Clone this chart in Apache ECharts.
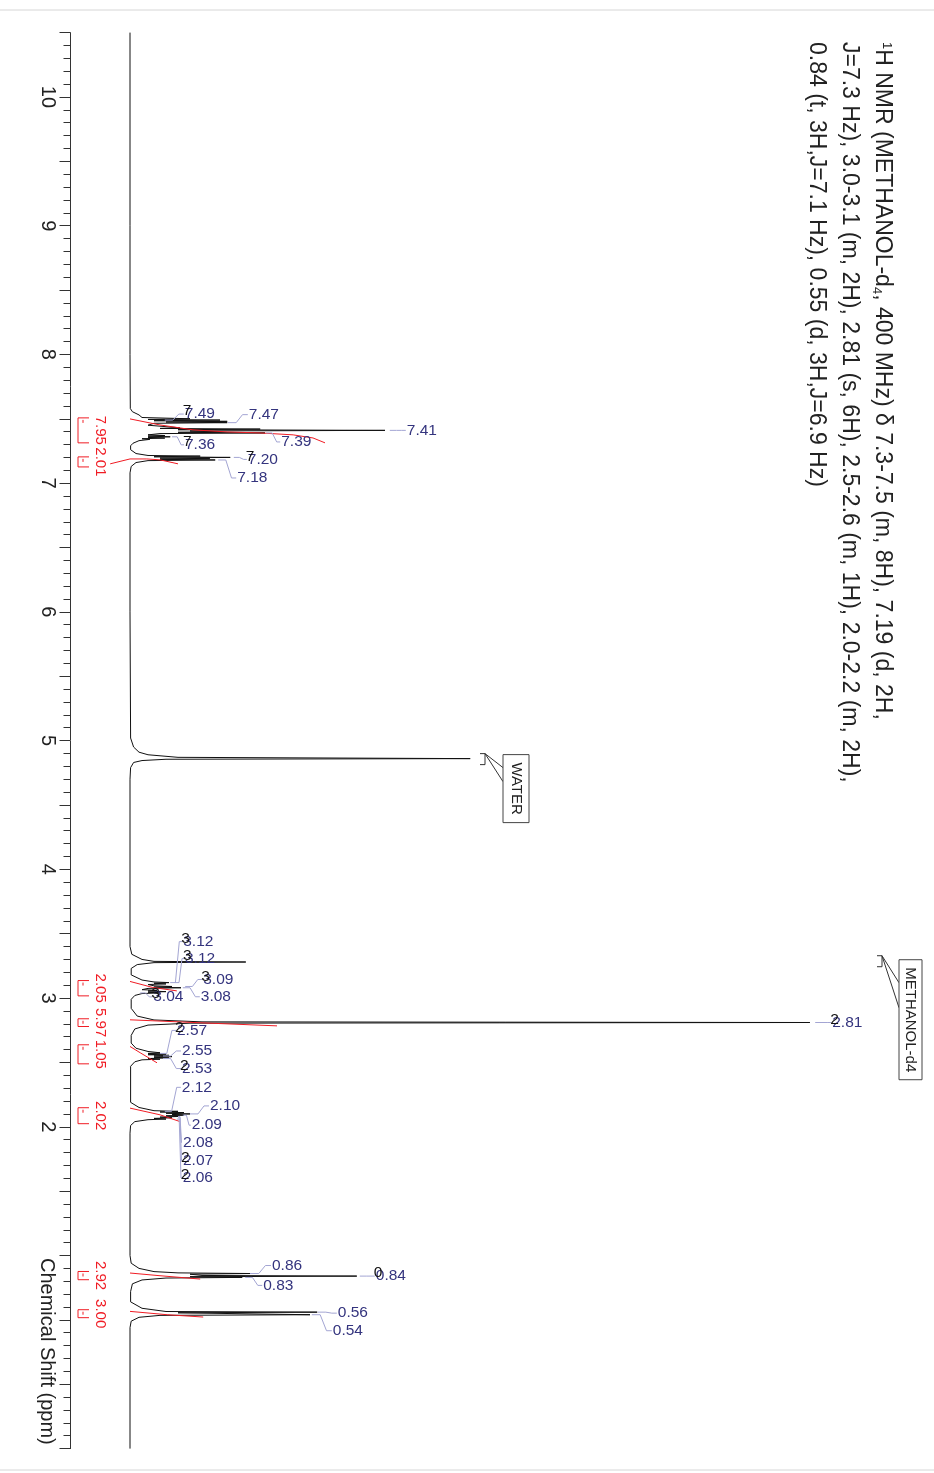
<!DOCTYPE html>
<html><head><meta charset="utf-8">
<script src="https://cdn.jsdelivr.net/npm/echarts@6/dist/echarts.min.js"></script>
<style>html,body{margin:0;padding:0;background:#fff}#c{width:934px;height:1473px}</style>
</head><body><div id="c"></div>
<script>
// ================= DATA =================
// Axis (chemical shift, ppm) range and ticks
const ppmMin = -0.5, ppmMax = 10.5, ppmInterval = 0.5;
const ppmLabelMin = 2; // tick labels shown from 2 to 10 (0 and 1 hidden under axis name)

// Spectrum trace: [ppm, intensity] (intensity in arbitrary units, baseline = 0)
const spectrumBase = [[10.5,0],[9.0,0],[8.0,0],[7.58,0.05]];
const spectrumAromatic = [
  [7.555,0.4],[7.53,1.5],[7.51,2],[7.50,10],[7.495,3],[7.49,15],[7.485,4],[7.48,16.2],[7.475,6],[7.47,16.2],[7.465,4],
  [7.45,3],[7.43,8.3],[7.425,5],[7.42,21.7],[7.415,8],[7.41,42.5],[7.405,10],[7.40,15],[7.395,8],[7.39,22.5],[7.385,5],
  [7.375,3],[7.37,5.8],[7.365,3],[7.36,6.7],[7.355,3],[7.35,5.8],[7.345,2],[7.34,3.3],[7.33,1.5],[7.31,0.5],[7.29,0.1],[7.26,0.1],
  [7.23,1],[7.215,3],[7.21,11.7],[7.205,4],[7.20,16.7],[7.195,5],[7.19,13.3],[7.185,5],[7.18,14.2],[7.175,3],[7.16,1],[7.13,0.2],[7.08,0]
];
const spectrumWater = [[6.0,0],[5.02,0.1],[4.95,0.6],[4.91,1.5],[4.89,3],[4.87,8],[4.86,56.7],[4.855,6],[4.845,2],[4.83,0.6],[4.79,0.1],[4.70,0]];
const spectrumMethylene = [
  [3.40,0],[3.34,0.3],[3.30,2],[3.285,4],[3.28,19.3],[3.275,4],[3.26,1.2],[3.23,0.2],
  [3.18,0.2],[3.14,2],[3.125,4],[3.12,6.5],[3.115,4],[3.11,6],[3.105,3],[3.095,4],[3.09,7],[3.085,4],[3.08,8.5],[3.075,3],
  [3.065,2],[3.06,4.5],[3.055,3],[3.05,6],[3.045,3],[3.04,5],[3.035,2],[3.02,0.8],[2.99,0.2],
  [2.92,0.2],[2.86,1.2],[2.83,4],[2.815,12],[2.81,113.3],[2.805,10],[2.79,3],[2.76,0.8],[2.71,0.2],
  [2.65,0.2],[2.61,1],[2.585,3],[2.575,5],[2.57,3],[2.565,6],[2.56,3],[2.555,6.5],[2.55,4],[2.545,7],[2.54,4],[2.535,6.5],
  [2.53,3],[2.525,5],[2.52,2],[2.505,0.8],[2.47,0.1],
  [2.19,0.1],[2.15,1.5],[2.125,4],[2.12,8],[2.115,5],[2.11,9],[2.105,6],[2.10,10],[2.095,7],[2.09,9],[2.085,6],[2.08,8],
  [2.075,5],[2.07,7],[2.065,4],[2.06,6],[2.055,3],[2.04,0.8],[2.01,0.1],[1.95,0]
];
const spectrumAliphatic = [
  [1.0,0],[0.94,0.2],[0.90,1.5],[0.875,4],[0.865,8],[0.86,20],[0.855,10],[0.845,12],[0.84,37.8],[0.835,10],[0.83,18.7],
  [0.825,6],[0.81,2],[0.78,0.4],[0.72,0.1],
  [0.64,0.1],[0.59,2],[0.565,6],[0.56,31.2],[0.555,8],[0.545,8],[0.54,30],[0.535,5],[0.52,1.5],[0.49,0.2],[0.44,0],[-0.5,0]
];

// Integrals: ranges [from ppm, to ppm] and values
const integralRanges = [[7.507,7.313],[7.204,7.126],[3.136,3.017],[2.839,2.779],[2.637,2.489],[2.148,2.024],[0.876,0.812],[0.579,0.517]];
const integralValues = ['7.95','2.01','2.05','5.97','1.05','2.02','2.92','3.00'];
// Integral curves: [ppm, intensity]
const integralCurves = [
  [[7.499,0],[7.452,5],[7.414,10.5],[7.398,16.2],[7.390,21.7],[7.375,27.2],[7.351,30.5],[7.313,32.5]],
  [[7.150,-3.3],[7.188,0],[7.188,2.8],[7.181,5],[7.150,8]],
  [[3.129,0],[3.082,3.8],[3.056,7.8]],
  [[2.831,0],[2.808,11.7],[2.784,24.5]],
  [[2.624,0],[2.575,1.7],[2.497,4.5]],
  [[2.145,0],[2.093,5],[2.041,8.3]],
  [[0.864,0],[0.843,5],[0.817,11.7]],
  [[0.566,0],[0.540,6.2],[0.522,12.2]]
];

// Peak picking labels and where their leaders attach (intensity)
const peakLabels = ['7.49','7.47','7.41','7.39','7.36','7.20','7.18','3.12','3.12','3.09','3.08','3.04','2.81','2.57','2.55','2.53','2.12','2.10','2.09','2.08','2.07','2.06','0.86','0.84','0.83','0.56','0.54'];
const peakAttach = [5.8,16.3,43.3,22.7,7,17.3,14.7,6.7,7.5,9.2,8.8,1.7,114.2,5,5.5,5.5,5.8,10,8.8,8,8,7.8,20,38.3,19.2,31.3,30.3];
const peakGhost = ['7','','','','7','7','','3','3','3','','3','2','2','','2','','','','','2','2','','0','','',''];

// Solvent annotations
const solventLabels = ['WATER','METHANOL-d4'];
const solventPpm = [4.86, 3.29];

// Texts
const titleLines = [
  '{sup|1}H NMR (METHANOL-d{sub|4}, 400 MHz) δ 7.3-7.5 (m, 8H), 7.19 (d, 2H,',
  'J=7.3 Hz), 3.0-3.1 (m, 2H), 2.81 (s, 6H), 2.5-2.6 (m, 1H), 2.0-2.2 (m, 2H),',
  '0.84 (t, 3H,J=7.1 Hz), 0.55 (d, 3H,J=6.9 Hz)'
];
const axisTitle = 'Chemical Shift (ppm)';

// ================= LAYOUT / STYLE =================
const FONT = "'Liberation Sans', Arial, Helvetica, sans-serif";
const RED = '#f01c24', NAVY = '#34347e', LEADER = '#a3a5d3';
const peakLabelOffsets = [[20,-6],[21,-8],[17,0],[15,9],[13,8],[14,2],[19,18],[13,-41],[10,-24],[18,-7],[18,9],[13,4],[17,0],[17,-23],[19,-5],[19,10],[17,-24],[20,-8],[9,10],[5,26],[5,43],[6,59],[22,-8],[16,0],[18,8],[20,1],[21,16]];
const solventLayout = [
  {bx:485, boxX:503, boxW:26, boxTop:-4, boxH:68, l1:9, l2:23},
  {bx:882, boxX:899, boxW:23, boxTop:-1, boxH:120, l1:22, l2:47}
];

const spectrum = [].concat(spectrumBase, spectrumAromatic, spectrumWater, spectrumMethylene, spectrumAliphatic);

const chart = echarts.init(document.getElementById('c'), null, {renderer:'canvas'});

const series = [];
series.push({
  type:'line', name:'spectrum', data: spectrum.map(p => [p[1], p[0]]),
  showSymbol:false, symbol:'none', lineStyle:{color:'#111', width:1}, z:3, animation:false
});
integralCurves.forEach((c, k) => series.push({
  type:'line', name:'int'+k, data:c.map(p => [p[1], p[0]]), showSymbol:false, symbol:'none',
  lineStyle:{color:RED, width:1}, z:4, animation:false
}));
series.push({
  type:'custom', name:'integrals', z:5, animation:false,
  data: integralRanges.map((r, i) => [0, (r[0]+r[1])/2, i]),
  renderItem(params, api) {
    const i = params.dataIndex;
    const a = api.coord([0, integralRanges[i][0]]), b = api.coord([0, integralRanges[i][1]]);
    const bx = 78, t = 11;
    return {type:'group', children:[
      {type:'polyline', shape:{points:[[bx+t,a[1]],[bx,a[1]],[bx,b[1]],[bx+t,b[1]]]}, style:{stroke:RED, lineWidth:1, fill:null}},
      {type:'polyline', shape:{points:[[bx+5,a[1]+2],[bx+5,a[1]+5]]}, style:{stroke:RED, lineWidth:1, fill:null}},
      {type:'text', x:100, y:(a[1]+b[1])/2, rotation:-Math.PI/2,
        style:{text:integralValues[i], fill:RED, font:'15px '+FONT, textAlign:'center', textVerticalAlign:'middle', align:'center', verticalAlign:'middle'}}
    ]};
  }
});
series.push({
  type:'custom', name:'peaks', z:6, animation:false,
  data: peakLabels.map((l, i) => [peakAttach[i], parseFloat(l), i]),
  renderItem(params, api) {
    const i = params.dataIndex;
    const p = api.coord([api.value(0), api.value(1)]);
    const [dx, dy] = peakLabelOffsets[i];
    const tx = p[0]+dx, ty = p[1]+dy;
    const kids = [
      {type:'polyline', shape:{points:[[p[0],p[1]],[p[0]+dx*0.4,p[1]],[p[0]+dx*0.7,ty],[tx-1,ty]]}, style:{stroke:LEADER, lineWidth:1, fill:null}},
      {type:'text', x:tx, y:ty, style:{text:peakLabels[i], fill:NAVY, font:'15.5px '+FONT, textAlign:'left', textVerticalAlign:'middle', align:'left', verticalAlign:'middle'}}
    ];
    if (peakGhost[i]) kids.push({type:'text', x:tx-2, y:ty-3, style:{text:peakGhost[i], fill:'#111', font:'15.5px '+FONT, textAlign:'left', textVerticalAlign:'middle', align:'left', verticalAlign:'middle'}});
    return {type:'group', children:kids};
  }
});
series.push({
  type:'custom', name:'solvents', z:6, animation:false,
  data: solventPpm.map((v, i) => [0, v, i]),
  renderItem(params, api) {
    const i = params.dataIndex, L = solventLayout[i];
    const y = api.coord([0, api.value(1)])[1];
    const top = y + L.boxTop;
    return {type:'group', children:[
      {type:'polyline', shape:{points:[[L.bx-5,y-5],[L.bx,y-5],[L.bx,y+6],[L.bx-5,y+6]]}, style:{stroke:'#333', lineWidth:1, fill:null}},
      {type:'polyline', shape:{points:[[L.boxX,y+L.l1],[L.bx,y-5],[L.boxX,y+L.l2]]}, style:{stroke:'#333', lineWidth:1, fill:null}},
      {type:'rect', shape:{x:L.boxX, y:top, width:L.boxW, height:L.boxH}, style:{stroke:'#444', lineWidth:1, fill:'#fff'}},
      {type:'text', x:L.boxX+L.boxW/2, y:top+L.boxH/2, rotation:-Math.PI/2,
        style:{text:solventLabels[i], fill:'#222', font:'15px '+FONT, textAlign:'center', textVerticalAlign:'middle', align:'center', verticalAlign:'middle'}}
    ]};
  }
});

const titleX = [882, 849, 816];
const graphic = titleLines.map((t, i) => ({
  type:'text', x:titleX[i], y:42, rotation:-Math.PI/2,
  style:{text:t, fill:'#222', font:'23px '+FONT, textAlign:'left', textVerticalAlign:'middle', align:'left', verticalAlign:'middle',
    rich:{sup:{fontSize:13, fontFamily:FONT, fill:'#222', verticalAlign:'top', padding:[0,0,9,0]}, sub:{fontSize:13, fontFamily:FONT, fill:'#222', verticalAlign:'bottom', padding:[7,0,0,0]}}}
}));
graphic.push({type:'text', x:47, y:1258, rotation:-Math.PI/2,
  style:{text:axisTitle, fill:'#222', font:'20px '+FONT, textAlign:'left', textVerticalAlign:'middle', align:'left', verticalAlign:'middle'}});
graphic.push({type:'line', shape:{x1:0, y1:10, x2:934, y2:10}, style:{stroke:'#d6d6d6', lineWidth:1}});
graphic.push({type:'line', shape:{x1:0, y1:1470, x2:934, y2:1470}, style:{stroke:'#d6d6d6', lineWidth:1}});

chart.setOption({
  animation:false,
  backgroundColor:'#fff',
  grid:{left:70, top:32.6, width:840, height:1416, containLabel:false},
  xAxis:{type:'value', min:-10, max:130, show:false},
  yAxis:{
    type:'value', min:ppmMin, max:ppmMax, interval:ppmInterval, position:'left',
    axisLine:{show:true, onZero:false, lineStyle:{color:'#333', width:1}},
    axisTick:{show:true, length:10.5, lineStyle:{color:'#333', width:1}},
    minorTick:{show:true, splitNumber:5, length:6.5, lineStyle:{color:'#333', width:1}},
    splitLine:{show:false}, minorSplitLine:{show:false},
    axisLabel:{rotate:-90, margin:12, fontSize:20, color:'#222', fontFamily:FONT,
      formatter:v => (Math.abs(v - Math.round(v)) < 1e-9 && v >= ppmLabelMin) ? String(Math.round(v)) : ''}
  },
  series, graphic
});
</script></body></html>
